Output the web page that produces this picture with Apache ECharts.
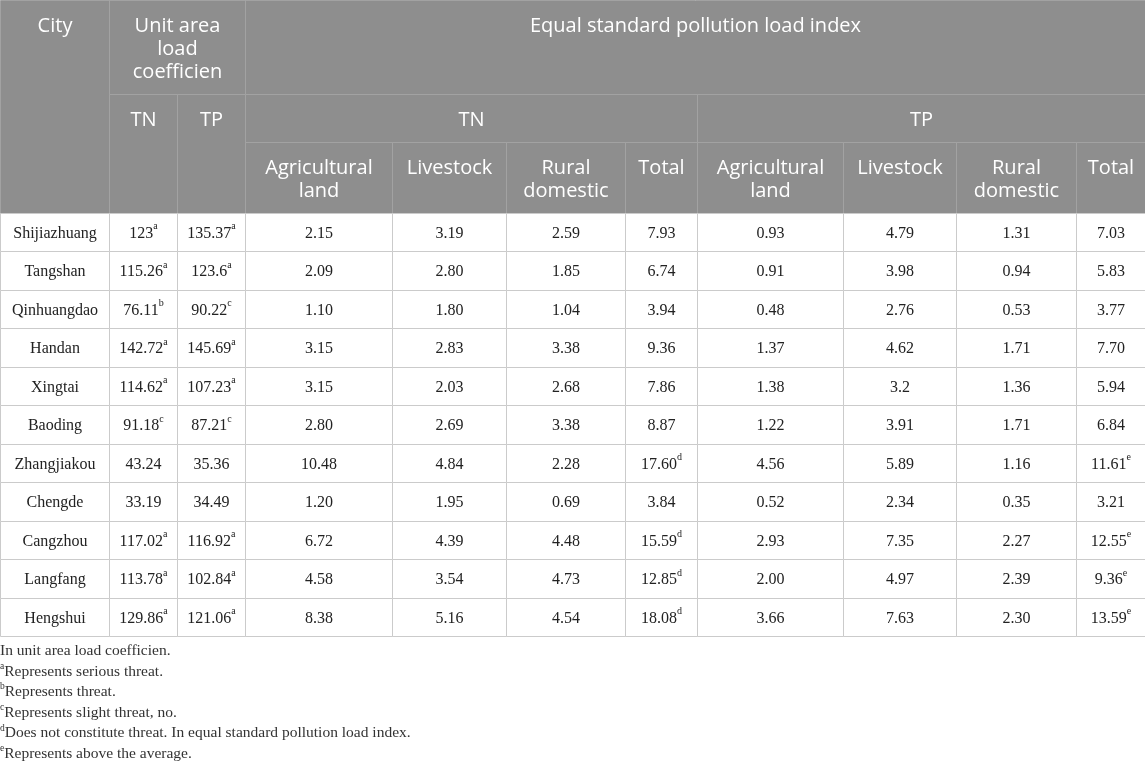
<!DOCTYPE html>
<html><head><meta charset="utf-8">
<script src="https://cdn.jsdelivr.net/npm/echarts@6/dist/echarts.min.js"></script>
<style>html,body{margin:0;padding:0;background:#fff}#c{width:1145px;height:764px}</style>
</head><body><div id="c"></div>
<script>
// ---- data ----
const cities = ['Shijiazhuang','Tangshan','Qinhuangdao','Handan','Xingtai','Baoding','Zhangjiakou','Chengde','Cangzhou','Langfang','Hengshui'];
const unitTN = ['123','115.26','76.11','142.72','114.62','91.18','43.24','33.19','117.02','113.78','129.86'];
const unitTNSup = ['a','a','b','a','a','c','','','a','a','a'];
const unitTP = ['135.37','123.6','90.22','145.69','107.23','87.21','35.36','34.49','116.92','102.84','121.06'];
const unitTPSup = ['a','a','c','a','a','c','','','a','a','a'];
const tnAgri = ['2.15','2.09','1.10','3.15','3.15','2.80','10.48','1.20','6.72','4.58','8.38'];
const tnLive = ['3.19','2.80','1.80','2.83','2.03','2.69','4.84','1.95','4.39','3.54','5.16'];
const tnRural = ['2.59','1.85','1.04','3.38','2.68','3.38','2.28','0.69','4.48','4.73','4.54'];
const tnTotal = ['7.93','6.74','3.94','9.36','7.86','8.87','17.60','3.84','15.59','12.85','18.08'];
const tnTotalSup = ['','','','','','','d','','d','d','d'];
const tpAgri = ['0.93','0.91','0.48','1.37','1.38','1.22','4.56','0.52','2.93','2.00','3.66'];
const tpLive = ['4.79','3.98','2.76','4.62','3.2','3.91','5.89','2.34','7.35','4.97','7.63'];
const tpRural = ['1.31','0.94','0.53','1.71','1.36','1.71','1.16','0.35','2.27','2.39','2.30'];
const tpTotal = ['7.03','5.83','3.77','7.70','5.94','6.84','11.61','3.21','12.55','9.36','13.59'];
const tpTotalSup = ['','','','','','','e','','e','e','e'];
const subHeads = ['Agricultural\nland','Livestock','Rural\ndomestic','Total'];
const footnotes = [
  ['', 'In unit area load coefficien.'],
  ['a', 'Represents serious threat.'],
  ['b', 'Represents threat.'],
  ['c', 'Represents slight threat, no.'],
  ['d', 'Does not constitute threat. In equal standard pollution load index.'],
  ['e', 'Represents above the average.']
];

// ---- layout ----
const colEdges = [0,109,177,245,392,506,625,697,843,956,1076,1145];
const rowEdges = [0,94,142,213];
for (let i = 0; i < cities.length; i++) rowEdges.push(213 + (636 - 213) * (i + 1) / cities.length);

const cells = [];
function addCell(c0, c1, r0, r1, text, sup, head) {
  cells.push({value: [colEdges[c0], colEdges[c1], rowEdges[r0], rowEdges[r1]], text: text, sup: sup || '', head: head});
}
addCell(0, 1, 0, 3, 'City', '', true);
addCell(1, 3, 0, 1, 'Unit area\nload\ncoefficien', '', true);
addCell(3, 11, 0, 1, 'Equal standard pollution load index', '', true);
addCell(1, 2, 1, 3, 'TN', '', true);
addCell(2, 3, 1, 3, 'TP', '', true);
addCell(3, 7, 1, 2, 'TN', '', true);
addCell(7, 11, 1, 2, 'TP', '', true);
subHeads.forEach((h, k) => { addCell(3 + k, 4 + k, 2, 3, h, '', true); addCell(7 + k, 8 + k, 2, 3, h, '', true); });
cities.forEach((c, i) => {
  const r = 3 + i;
  const row = [[c,''],[unitTN[i],unitTNSup[i]],[unitTP[i],unitTPSup[i]],[tnAgri[i],''],[tnLive[i],''],[tnRural[i],''],[tnTotal[i],tnTotalSup[i]],
    [tpAgri[i],''],[tpLive[i],''],[tpRural[i],''],[tpTotal[i],tpTotalSup[i]]];
  row.forEach((v, k) => addCell(k, k + 1, r, r + 1, v[0], v[1], false));
});

const HEAD_FONT = '"Open Sans", "Noto Sans", sans-serif';
const BODY_FONT = '"Liberation Serif", "DejaVu Serif", serif';

function renderItem(params, api) {
  const cell = cells[params.dataIndex];
  const p0 = api.coord([api.value(0), api.value(2)]);
  const p1 = api.coord([api.value(1), api.value(3)]);
  const x0 = Math.round(p0[0]) + 0.5, y0 = Math.round(p0[1]) + 0.5;
  const x1 = Math.round(p1[0]) + 0.5, y1 = Math.round(p1[1]) + 0.5;
  const rect = {
    type: 'rect',
    shape: {x: x0, y: y0, width: x1 - x0, height: y1 - y0},
    style: cell.head ? {fill: '#8e8e8e', stroke: '#a2a2a2', lineWidth: 1} : {fill: '#ffffff', stroke: '#cbcbcb', lineWidth: 1}
  };
  let txt;
  if (cell.head) {
    txt = {type: 'text', style: {x: (x0 + x1) / 2, y: y0 + 14, text: cell.text, align: 'center', verticalAlign: 'top',
      font: '20px ' + HEAD_FONT, fill: '#ffffff', lineHeight: 23}};
  } else {
    const t = '{n|' + cell.text + '}' + (cell.sup ? '{s|' + cell.sup + '}' : '');
    txt = {type: 'text', style: {x: (x0 + x1) / 2, y: (y0 + y1) / 2 + 1, text: t, align: 'center', verticalAlign: 'middle',
      rich: {n: {fontSize: 16, fontFamily: BODY_FONT, fill: '#222222', lineHeight: 24},
             s: {fontSize: 10, fontFamily: BODY_FONT, fill: '#222222', lineHeight: 8, verticalAlign: 'top'}}}};
  }
  return {type: 'group', children: [rect, txt]};
}

const footText = footnotes.map(f => (f[0] ? '{s|' + f[0] + '}' : '') + '{t|' + f[1] + '}').join('\n');

const chart = echarts.init(document.getElementById('c'));
chart.setOption({
  animation: false,
  backgroundColor: '#ffffff',
  grid: {left: 0, right: 0, top: 0, bottom: 0},
  xAxis: {type: 'value', min: 0, max: 1145, show: false},
  yAxis: {type: 'value', min: 0, max: 764, inverse: true, show: false},
  series: [{
    type: 'custom',
    renderItem: renderItem,
    encode: {x: [0, 1], y: [2, 3]},
    data: cells.map(c => c.value),
    silent: true
  }],
  graphic: [{
    type: 'text', left: 0, top: 643,
    style: {text: footText, rich: {
      t: {fontSize: 15.5, fontFamily: BODY_FONT, fill: '#333333', lineHeight: 20.6},
      s: {fontSize: 9.5, fontFamily: BODY_FONT, fill: '#333333', lineHeight: 7, verticalAlign: 'top'}
    }}
  }]
});
</script></body></html>
